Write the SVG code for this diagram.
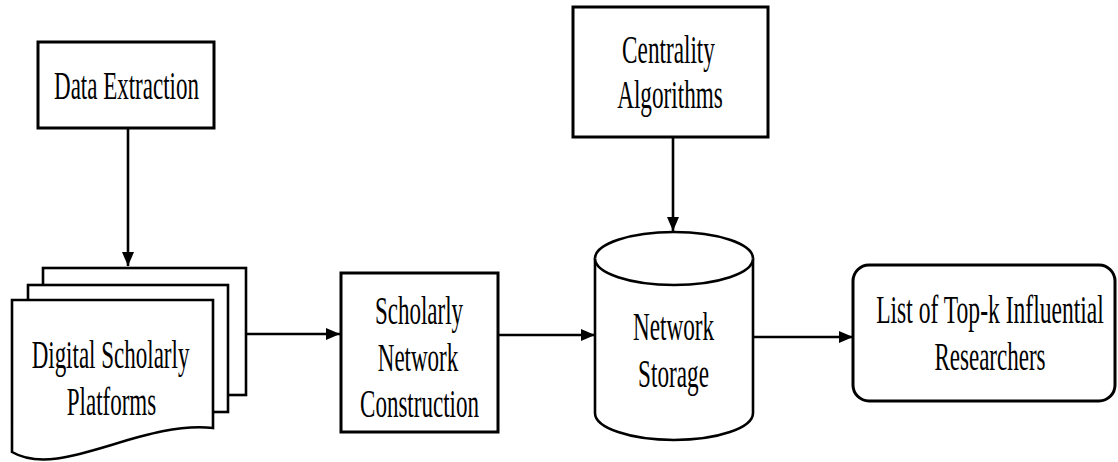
<svg xmlns="http://www.w3.org/2000/svg" width="1118" height="462" viewBox="0 0 1118 462">
<style>
.box{fill:#fff;stroke:#000;stroke-width:3}
.pg{fill:#fff;stroke:#000;stroke-width:2.6}
.cn{fill:none;stroke:#000;stroke-width:2.6}
.t{font-family:"Liberation Serif","Times New Roman",serif;font-size:41px;fill:#000;text-anchor:middle}
</style>
<defs>
<marker id="ah" viewBox="0 0 14 12" refX="14" refY="6" markerWidth="14" markerHeight="12" markerUnits="userSpaceOnUse" orient="auto">
<path d="M0,0 L14,6 L0,12 Z" fill="#000"/>
</marker>
</defs>
<rect width="1118" height="462" fill="#fff"/>
<g id="connectors">
<line class="cn" x1="128" y1="129" x2="128" y2="266" marker-end="url(#ah)"/>
<line class="cn" x1="247" y1="334" x2="340" y2="334" marker-end="url(#ah)"/>
<line class="cn" x1="499" y1="335" x2="595" y2="335" marker-end="url(#ah)"/>
<line class="cn" x1="673" y1="138" x2="673" y2="231" marker-end="url(#ah)"/>
<line class="cn" x1="754" y1="337" x2="853" y2="337" marker-end="url(#ah)"/>
</g>
<g id="data-extraction">
<rect class="box" x="38" y="42" width="176" height="86"/>
<text class="t" transform="translate(126.5,99) scale(0.561,1)">Data Extraction</text>
</g>
<g id="digital-scholarly-platforms">
<rect class="pg" x="43" y="268" width="203" height="127"/>
<rect class="pg" x="28" y="285" width="200" height="127"/>
<path class="pg" d="M12,300 H213 V428 C140,420 60,480 12,452 Z"/>
<text class="t" transform="translate(110.5,368) scale(0.561,1)">Digital Scholarly</text>
<text class="t" transform="translate(111.5,415) scale(0.561,1)">Platforms</text>
</g>
<g id="scholarly-network-construction">
<rect class="box" x="341" y="273" width="157" height="159"/>
<text class="t" transform="translate(419,324) scale(0.561,1)">Scholarly</text>
<text class="t" transform="translate(418,371) scale(0.561,1)">Network</text>
<text class="t" transform="translate(419.5,417) scale(0.561,1)">Construction</text>
</g>
<g id="centrality-algorithms">
<rect class="box" x="573" y="7" width="195" height="130"/>
<text class="t" transform="translate(668.5,63) scale(0.566,1)">Centrality</text>
<text class="t" transform="translate(670,108) scale(0.566,1)">Algorithms</text>
</g>
<g id="network-storage">
<path class="pg" d="M595,258.5 V413 A79,27 0 0 0 753,413 V258.5 A79,26.5 0 0 0 595,258.5 Z"/>
<path class="pg" fill="none" d="M595,258.5 A79,26.5 0 0 0 753,258.5"/>
<text class="t" transform="translate(673.5,340) scale(0.566,1)">Network</text>
<text class="t" transform="translate(673.5,387) scale(0.566,1)">Storage</text>
</g>
<g id="top-k-researchers">
<rect class="box" x="853" y="265" width="262" height="136" rx="16" ry="16"/>
<text class="t" transform="translate(990,323) scale(0.575,1)">List of Top-k Influential</text>
<text class="t" transform="translate(990,370) scale(0.561,1)">Researchers</text>
</g>
</svg>
